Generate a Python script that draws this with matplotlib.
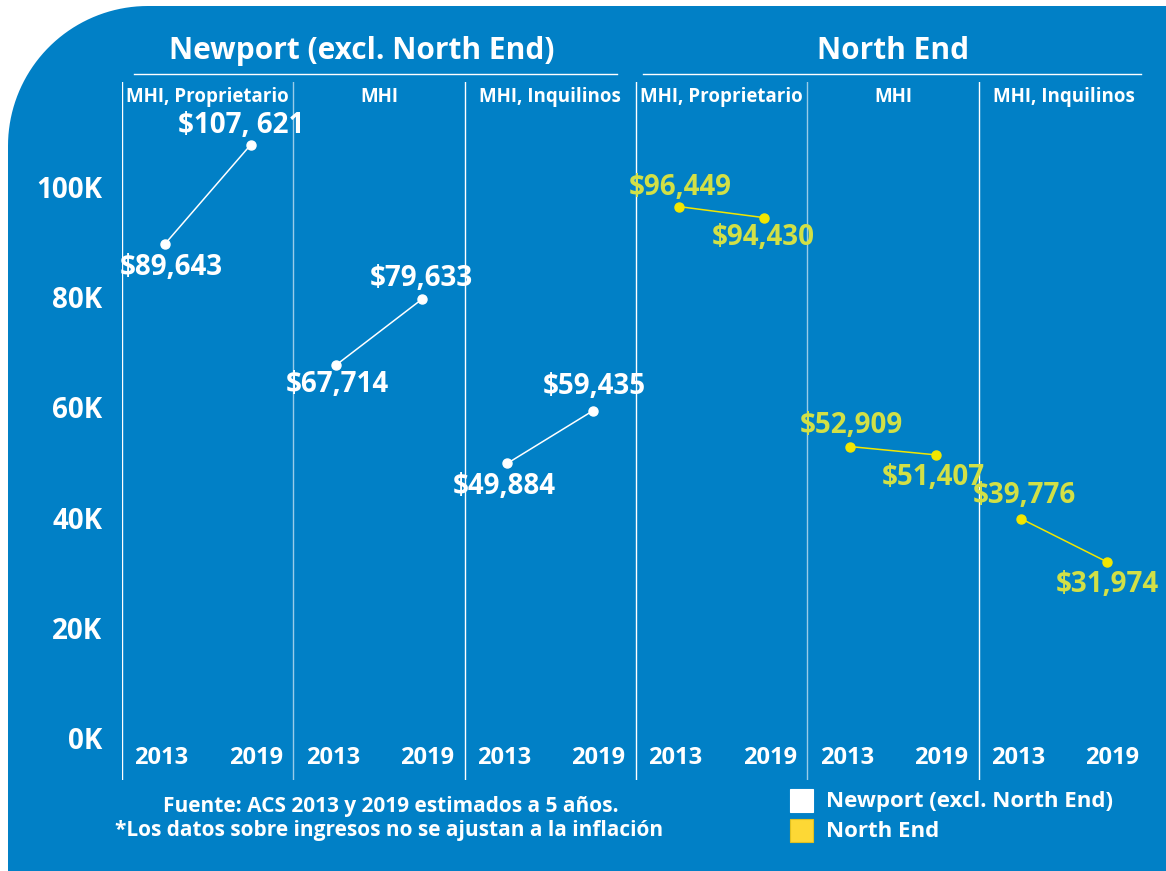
"""Median household income, Newport vs North End, 2013 vs 2019."""

import numpy as np
import matplotlib.pyplot as plt
from matplotlib.lines import Line2D
from matplotlib.patches import Polygon
from matplotlib.transforms import blended_transform_factory

plt.rcParams["font.family"] = ["Open Sans", "DejaVu Sans"]

# ---- data -------------------------------------------------------------
panels = ["MHI, Proprietario", "MHI", "MHI, Inquilinos",
          "MHI, Proprietario", "MHI", "MHI, Inquilinos"]
years = ["2013", "2019"]
newport_2013 = [89643, 67714, 49884]
newport_2019 = [107621, 79633, 59435]
north_2013 = [96449, 52909, 39776]
north_2019 = [94430, 51407, 31974]
newport_labels = [("$89,643", "$107, 621"), ("$67,714", "$79,633"), ("$49,884", "$59,435")]
north_labels = [("$96,449", "$94,430"), ("$52,909", "$51,407"), ("$39,776", "$31,974")]
yticks = [0, 20000, 40000, 60000, 80000, 100000]
ytick_labels = ["0K", "20K", "40K", "60K", "80K", "100K"]
groups = ["Newport (excl. North End)", "North End"]
notes = ["Fuente: ACS 2013 y 2019 estimados a 5 años.",
         "*Los datos sobre ingresos no se ajustan a la inflación"]

# ---- style ------------------------------------------------------------
BLUE = "#0180C6"
WHITE = "white"
YELLOW = "#F2E600"
YELLOW_TXT = "#D2E046"
LEGEND_YELLOW = "#FDD835"
# label offsets (points) for 2013 / 2019 in each panel
nw_off = [((5, -17), (-7, 14)), ((1, -14), (0, 15)), ((-2, -17), (1, 17))]
ne_off = [((1, 14), (-1, -14)), ((1, 15), (-2, -16)), ((2, 17), (0, -16))]

W, H = 1166, 871
fig = plt.figure(figsize=(W / 100, H / 100), dpi=100, facecolor="white")

# blue background with rounded top-left corner
R, x0, y0 = 140, 8, 6
theta = np.linspace(np.pi, 1.5 * np.pi, 40)
arc = [(x0 + R + R * np.cos(t), y0 + R + R * np.sin(t)) for t in theta]
pts = [(x0, H)] + arc + [(W, y0), (W, H)]
fig.add_artist(Polygon([(px / W, 1 - py / H) for px, py in pts], closed=True,
                       transform=fig.transFigure, facecolor=BLUE, edgecolor="none", zorder=0))

ax = fig.add_axes([122 / W, 1 - 780 / H, 1028 / W, 698 / H])
ax.set_facecolor("none")
for s in ax.spines.values():
    s.set_visible(False)
ax.set_xlim(0, 6)
ax.set_ylim(-7580, 119050)
ax.set_xticks([])
ax.set_yticks(yticks)
ax.set_yticklabels(ytick_labels, fontsize=20, fontweight="bold", color=WHITE)
ax.tick_params(axis="y", length=0, pad=14)

# panel separators
for i in range(6):
    ax.axvline(i, color=WHITE, lw=1, alpha=0.6 if i in (1, 4) else 1.0)

xt = blended_transform_factory(ax.transData, ax.transAxes)
for i, name in enumerate(panels):
    ax.text(i + 0.5, 0.979, name, transform=xt, ha="center", va="center",
            fontsize=13.5, fontweight="bold", color=WHITE)
    ax.text(i + 0.23, 0.0315, years[0], transform=xt, ha="center", va="center",
            fontsize=17, fontweight="bold", color=WHITE)
    ax.text(i + 0.78, 0.0315, years[1], transform=xt, ha="center", va="center",
            fontsize=17, fontweight="bold", color=WHITE)


def draw_series(start, v13, v19, labels, offs, line_c, txt_c):
    for k in range(3):
        xs = [start + k + 0.25, start + k + 0.75]
        ys = [v13[k], v19[k]]
        ax.plot(xs, ys, color=line_c, lw=1.1, marker="o", ms=6.5,
                markerfacecolor=line_c, markeredgecolor=line_c, zorder=3)
        for j in range(2):
            ax.annotate(labels[k][j], (xs[j], ys[j]), xytext=offs[k][j],
                        textcoords="offset points", ha="center", va="center",
                        fontsize=20, fontweight="bold", color=txt_c, zorder=4)


draw_series(0, newport_2013, newport_2019, newport_labels, nw_off, WHITE, WHITE)
draw_series(3, north_2013, north_2019, north_labels, ne_off, YELLOW, YELLOW_TXT)

# group titles with underline
for cx, (l, r), name in [(362, (134, 617), groups[0]), (893, (643, 1141), groups[1])]:
    fig.text(cx / W, 1 - 51 / H, name, ha="center", va="center",
             fontsize=21.5, fontweight="bold", color=WHITE)
    fig.add_artist(Line2D([l / W, r / W], [1 - 74 / H, 1 - 74 / H],
                          transform=fig.transFigure, color=WHITE, lw=1))

# footnotes
fig.text(391 / W, 1 - 806 / H, notes[0], ha="center", va="center",
         fontsize=15, fontweight="bold", color=WHITE)
fig.text(389 / W, 1 - 830 / H, notes[1], ha="center", va="center",
         fontsize=15, fontweight="bold", color=WHITE)

# legend
for yy, fc, name in [(801, WHITE, groups[0]), (831, LEGEND_YELLOW, groups[1])]:
    fig.add_artist(plt.Rectangle((790 / W, 1 - (yy + 11) / H), 23 / W, 23 / H,
                                 transform=fig.transFigure, facecolor=fc,
                                 edgecolor="#E0C020" if fc != WHITE else WHITE, lw=0.8))
    fig.text(826 / W, 1 - yy / H, name, ha="left", va="center",
             fontsize=16, fontweight="bold", color=WHITE)

fig.savefig("out.png", dpi=100, facecolor=fig.get_facecolor())
